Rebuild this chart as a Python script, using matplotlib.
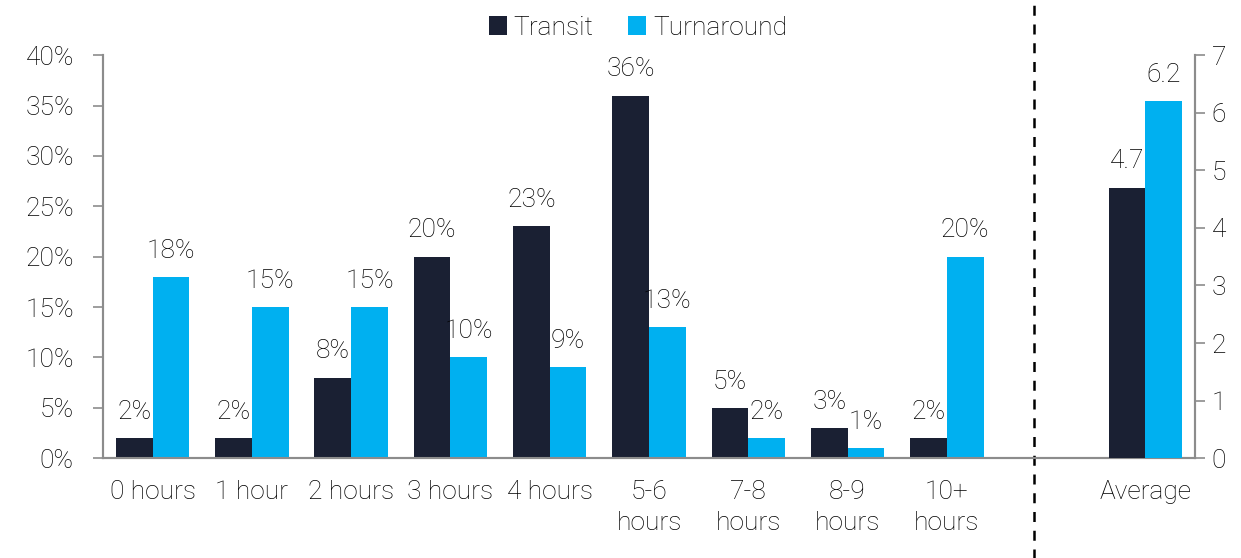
import numpy as np
import matplotlib.pyplot as plt
from matplotlib.ticker import FuncFormatter

plt.rcParams['font.family'] = ['Roboto', 'DejaVu Sans']
plt.rcParams['font.weight'] = 'light'

categories = ['0 hours', '1 hour', '2 hours', '3 hours', '4 hours',
              '5-6\nhours', '7-8\nhours', '8-9\nhours', '10+\nhours']
transit = [2, 2, 8, 20, 23, 36, 5, 3, 2]
turnaround = [18, 15, 15, 10, 9, 13, 2, 1, 20]
avg_label = 'Average'
avg_transit = 4.7
avg_turnaround = 6.2

dark = '#1a2033'
blue = '#00b0f0'
grey = '#8c8c8c'
txt = '#000000'
w = 0.37
fs = 19

fig = plt.figure(figsize=(12.41, 5.58), dpi=100)
ax = fig.add_axes([0.083, 0.179, 0.880, 0.722])
ax2 = ax.twinx()

x = np.arange(len(categories))
xa = len(categories) + 1  # one empty slot before the average

ax.bar(x - w / 2, transit, w, color=dark, label='Transit', zorder=3)
ax.bar(x + w / 2, turnaround, w, color=blue, label='Turnaround', zorder=3)
for i in x:
    ax.text(i - w / 2, transit[i] + 2.6, f'{transit[i]}%', ha='center', va='center',
            fontsize=fs, color=txt)
    ax.text(i + w / 2, turnaround[i] + 2.6, f'{turnaround[i]}%', ha='center', va='center',
            fontsize=fs, color=txt)

ax2.bar(xa - w / 2, avg_transit, w, color=dark, zorder=3)
ax2.bar(xa + w / 2, avg_turnaround, w, color=blue, zorder=3)
ax2.text(xa - w / 2, avg_transit + 0.46, f'{avg_transit}', ha='center', va='center',
         fontsize=fs, color=txt)
ax2.text(xa + w / 2, avg_turnaround + 0.46, f'{avg_turnaround}', ha='center', va='center',
         fontsize=fs, color=txt)

ax.set_xlim(-0.5, xa + 0.5)
ax.set_ylim(0, 40)
ax2.set_ylim(0, 7)
ax.set_yticks(np.arange(0, 41, 5))
ax.yaxis.set_major_formatter(FuncFormatter(lambda v, p: f'{v:.0f}%'))
ax2.set_yticks(np.arange(0, 8, 1))

ax.set_xticks(list(x) + [xa])
ax.set_xticklabels(categories + [avg_label], fontsize=fs, color=txt, linespacing=1.35)
ax.tick_params(axis='x', length=0, pad=16)
for a, p in ((ax, 14), (ax2, 5)):
    a.tick_params(axis='y', labelsize=fs, color=grey, length=7, width=1.2, pad=p)
    a.tick_params(axis='y', labelcolor=txt)

for a in (ax, ax2):
    a.spines['top'].set_visible(False)
    for s in ('left', 'right', 'bottom'):
        a.spines[s].set_color(grey)
        a.spines[s].set_linewidth(1.5)

# dashed separator between the distribution and the averages
ax.axvline(8.88, ymin=-0.25, ymax=1.14, color='black', linestyle=(0, (4, 3.5)),
           linewidth=1.8, clip_on=False, zorder=4)

fig.legend(loc='upper center', bbox_to_anchor=(0.514, 1.014), ncol=2, frameon=False,
           fontsize=fs, handlelength=0.7, handleheight=0.7, handletextpad=0.25,
           columnspacing=1.3)

fig.savefig('out.png', dpi=100)
